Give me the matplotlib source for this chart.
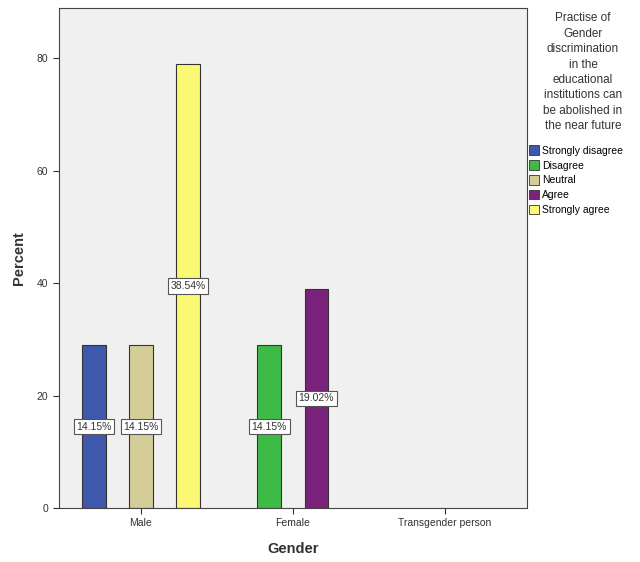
import numpy as np
import matplotlib.pyplot as plt

plt.rcParams['font.family'] = ['Liberation Sans', 'DejaVu Sans']

genders = ['Male', 'Female', 'Transgender person']
responses = ['Strongly disagree', 'Disagree', 'Neutral', 'Agree', 'Strongly agree']
colors = ['#3E58AC', '#3EBB46', '#D3CE97', '#7B237C', '#FBF873']

# bar heights per response, one value per gender (0 = no bar)
strongly_disagree = [29, 0, 0]
disagree = [0, 29, 0]
neutral = [29, 0, 0]
agree = [0, 39, 0]
strongly_agree = [79, 0, 0]

# labels as printed on the bars
strongly_disagree_lbl = ['14.15%', '', '']
disagree_lbl = ['', '14.15%', '']
neutral_lbl = ['14.15%', '', '']
agree_lbl = ['', '19.02%', '']
strongly_agree_lbl = ['38.54%', '', '']

series = [strongly_disagree, disagree, neutral, agree, strongly_agree]
labels = [strongly_disagree_lbl, disagree_lbl, neutral_lbl, agree_lbl, strongly_agree_lbl]

fig = plt.figure(figsize=(6.4, 5.62), dpi=100)
ax = fig.add_axes([0.092, 0.096, 0.731, 0.89])
ax.set_facecolor('#F0F0F0')

x = np.arange(len(genders))
w = 0.155
handles = []
for i, (vals, lbls, c) in enumerate(zip(series, labels, colors)):
    pos = x + (i - 2) * w
    for p, v, t in zip(pos, vals, lbls):
        if v <= 0:
            continue
        ax.bar(p, v, width=w, color=c, edgecolor='#333333', linewidth=0.8, zorder=2)
        ax.text(p, v / 2, t, ha='center', va='center', fontsize=7.5, color='#333333', zorder=3,
                bbox=dict(boxstyle='square,pad=0.25', fc='white', ec='#555555', lw=0.8))
    handles.append(plt.Rectangle((0, 0), 1, 1, fc=c, ec='#333333', lw=0.6))

ax.set_xlim(-0.54, 2.54)
ax.set_ylim(0, 89)
ax.set_xticks(x)
ax.set_xticklabels(genders, fontsize=7.5, color='#333333')
ax.set_yticks([0, 20, 40, 60, 80])
ax.set_yticklabels(['0', '20', '40', '60', '80'], fontsize=7.5, color='#333333')
ax.tick_params(direction='out', length=4, width=0.8, color='#333333')
for s in ax.spines.values():
    s.set_color('#444444')
    s.set_linewidth(0.8)

ax.set_xlabel('Gender', fontsize=10.5, fontweight='bold', color='#333333', labelpad=10)
ax.set_ylabel('Percent', fontsize=10.5, fontweight='bold', color='#333333', labelpad=8)

fig.text(0.911, 0.978, 'Practise of\nGender\ndiscrimination\nin the\neducational\ninstitutions can\nbe abolished in\nthe near future',
         ha='center', va='top', fontsize=8.5, color='#333333', linespacing=1.38)
fig.legend(handles, responses, loc='upper left', bbox_to_anchor=(0.823, 0.745),
           frameon=False, fontsize=7.5, handlelength=1.0, handleheight=1.0,
           handletextpad=0.3, labelspacing=0.45, borderaxespad=0, borderpad=0.2)

fig.savefig('out.png', dpi=100, facecolor='white')
